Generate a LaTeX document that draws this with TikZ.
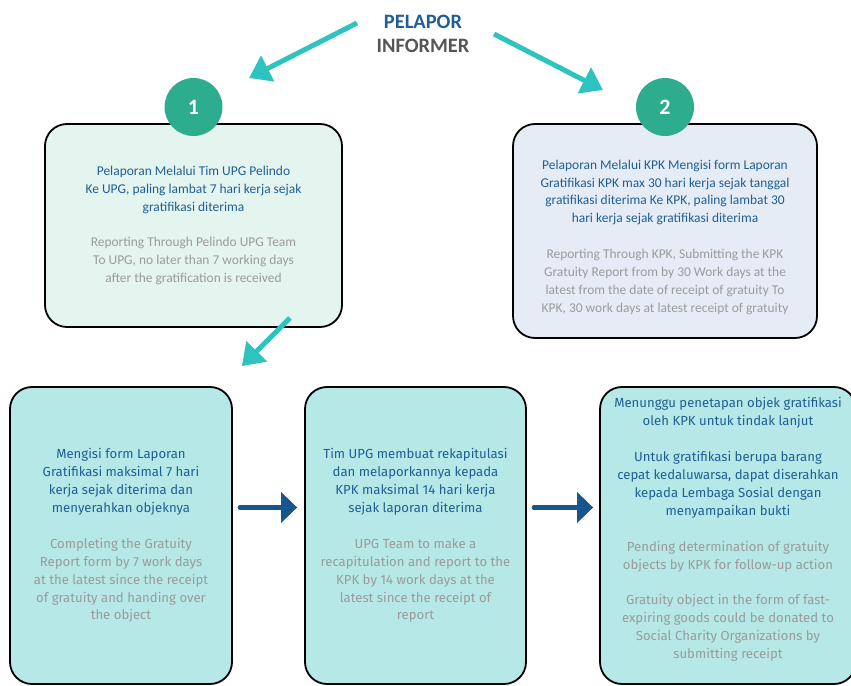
\documentclass[tikz,border=0pt]{standalone}
\usepackage{fontspec}
\setmainfont{Carlito}
\newfontfamily\stepfont{Fira Sans}
\usetikzlibrary{arrows.meta}

\definecolor{arrteal}{RGB}{45,195,190}
\definecolor{arrblue}{RGB}{22,86,140}
\definecolor{circ}{RGB}{46,173,142}
\definecolor{txtblue}{RGB}{31,95,150}
\definecolor{txtgray}{RGB}{155,155,155}
\definecolor{hdgray}{RGB}{85,85,85}
\definecolor{fillone}{RGB}{228,244,239}
\definecolor{filltwo}{RGB}{230,236,246}
\definecolor{fillstep}{RGB}{181,232,230}

\newcommand{\gy}[1]{\textcolor{txtgray}{#1}}

\begin{document}
\begin{tikzpicture}[x=1bp, y=-1bp,
	every node/.style={font=\fontsize{13.5}{18}\selectfont, align=center, text=txtblue},
	card/.style={draw, line width=1.8bp, rounded corners=22bp, inner sep=0pt},
	stepcard/.style={card, fill=fillstep, minimum height=297bp, font=\stepfont\fontsize{13.2}{18}\selectfont},
	num/.style={circle, fill=circ, minimum size=58bp, inner sep=0pt, text=white, font=\bfseries\fontsize{22}{22}\selectfont},
	tealarr/.style={draw=arrteal, line width=5bp, -{Triangle[length=21bp,width=28bp]}},
	bluearr/.style={draw=arrblue, line width=4.5bp, line cap=round, -{Triangle[length=16bp,width=30bp]}}]
	\clip (0,0) rectangle (851,686);
	% informer
	\node[font=\bfseries\fontsize{20.5}{24}\selectfont] (hdr) at (423,34) {PELAPOR\\\textcolor{hdgray}{INFORMER}};
	\coordinate (t1s) at (357,23);
	\coordinate (t1e) at (249,78);
	\coordinate (t2s) at (494,34);
	\coordinate (t2e) at (603,90);
	\draw[tealarr] (t1s) -- (t1e);
	\draw[tealarr] (t2s) -- (t2e);
	% two ways of reporting
	\node[card, fill=fillone, minimum width=297bp, minimum height=203bp] (rep1) at (193.5,225.5) {Pelaporan Melalui Tim UPG Pelindo\\Ke UPG, paling lambat 7 hari kerja sejak\\gratifikasi diterima\\[18bp]\gy{Reporting Through Pelindo UPG Team}\\\gy{To UPG, no later than 7 working days}\\\gy{after the gratification is received}};
	\node[card, fill=filltwo, minimum width=304bp, minimum height=214bp] (rep2) at (665,231) {\rule{0pt}{22bp}Pelaporan Melalui KPK Mengisi form Laporan\\Gratifikasi KPK max 30 hari kerja sejak tanggal\\gratifikasi diterima Ke KPK, paling lambat 30\\hari kerja sejak gratifikasi diterima\\[18bp]\gy{Reporting Through KPK, Submitting the KPK}\\\gy{Gratuity Report from by 30 Work days at the}\\\gy{latest from the date of receipt of gratuity To}\\\gy{KPK, 30 work days at latest receipt of gratuity}};
	\node[num] (n1) at (193.5,107) {1};
	\node[num] (n2) at (665,107) {2};
	% steps of route 1
	\node[stepcard, minimum width=222bp] (stepA) at (121,535.5) {Mengisi form Laporan\\Gratifikasi maksimal 7 hari\\kerja sejak diterima dan\\menyerahkan objeknya\\[18bp]\gy{Completing the Gratuity}\\\gy{Report form by 7 work days}\\\gy{at the latest since the receipt}\\\gy{of gratuity and handing over}\\\gy{the object}};
	\node[stepcard, minimum width=221bp] (stepB) at (415.5,535.5) {Tim UPG membuat rekapitulasi\\dan melaporkannya kepada\\KPK maksimal 14 hari kerja\\sejak laporan diterima\\[18bp]\gy{UPG Team to make a}\\\gy{recapitulation and report to the}\\\gy{KPK by 14 work days at the}\\\gy{latest since the receipt of}\\\gy{report}};
	\node[stepcard, minimum width=256bp, text depth=15bp] (stepC) at (728,535.5) {Menunggu penetapan objek gratifikasi\\oleh KPK untuk tindak lanjut\\[18bp]Untuk gratifikasi berupa barang\\cepat kedaluwarsa, dapat diserahkan\\kepada Lembaga Sosial dengan\\menyampaikan bukti\\[18bp]\gy{Pending determination of gratuity}\\\gy{objects by KPK for follow-up action}\\[18bp]\gy{Gratuity object in the form of fast-}\\\gy{expiring goods could be donated to}\\\gy{Social Charity Organizations by}\\\gy{submitting receipt}};
	\draw[tealarr] ([shift={(-53,-10)}]rep1.south east) -- ([shift={(9,-20)}]stepA.north east);
	\draw[bluearr] ([shift={(7,-28)}]stepA.east) -- ([shift={(-7,-28)}]stepB.west);
	\draw[bluearr] ([shift={(7,-28)}]stepB.east) -- ([shift={(-6,-28)}]stepC.west);
\end{tikzpicture}
\end{document}
